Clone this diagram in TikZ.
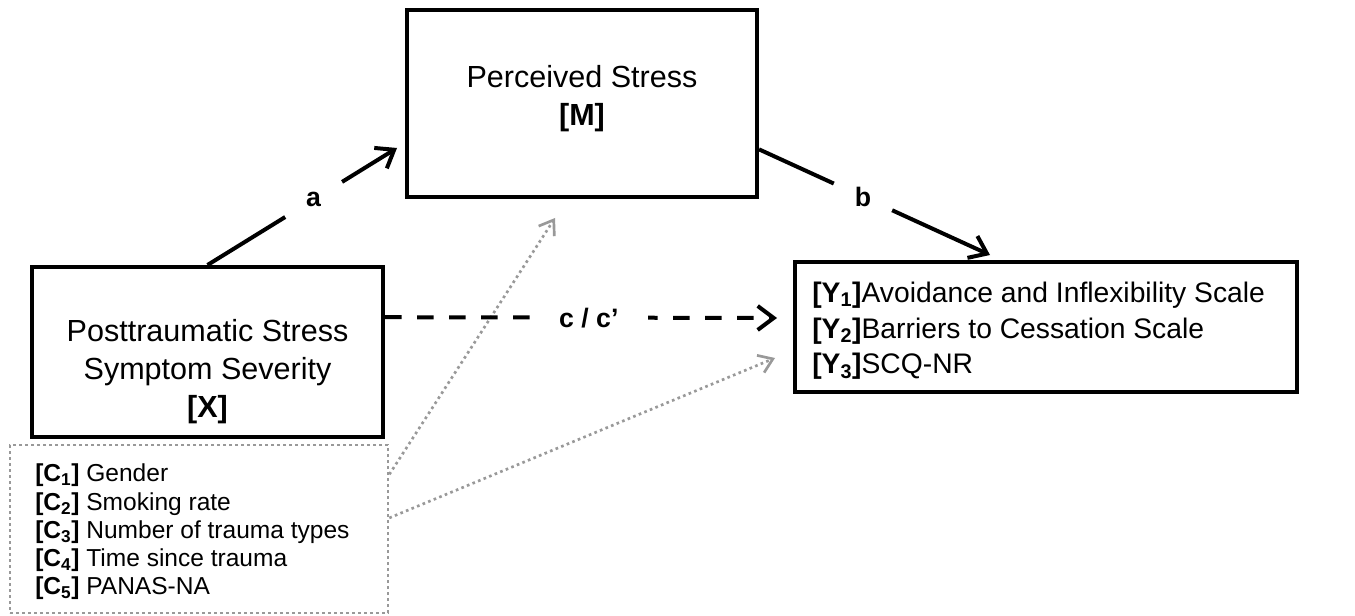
\documentclass[tikz,border=0pt]{standalone}
\usepackage{fontspec}
\setmainfont{Liberation Sans}
\usetikzlibrary{arrows.meta,calc}
\definecolor{dotgray}{HTML}{999999}
\begin{document}
\begin{tikzpicture}[x=0.75pt,y=-0.75pt,
  box/.style={draw=black, line width=3pt, inner sep=0pt},
  bigtext/.style={inner sep=0pt, align=center, font=\fontsize{22.9}{28.5}\selectfont},
  ytext/.style={inner sep=0pt, align=left, font=\fontsize{21.2}{26.6}\selectfont},
  ctext/.style={inner sep=0pt, align=left, font=\fontsize{18.4}{21.2}\selectfont},
  link/.style={line width=3pt, -{Straight Barb[length=12pt,width=18pt]}},
  dashlink/.style={link, dash pattern=on 12.5pt off 11.5pt},
  dotted gray/.style={draw=dotgray, line width=2pt, dash pattern=on 2pt off 2.5pt},
  graylink/.style={dotted gray,
    -{Straight Barb[length=10pt,width=14pt,line width=2pt]}},
  lbl/.style={fill=white, inner sep=0pt, font=\bfseries\fontsize{20}{24}\selectfont},
  round lbl/.style={lbl, circle, minimum size=#1}
]
\useasboundingbox (0,0) rectangle (1355,616);

% boxes
\node[box, minimum width=262.5pt, minimum height=140.25pt] (M) at (582,103.5) {};
\node[box, minimum width=263.25pt, minimum height=127.5pt] (X) at (207.5,352) {};
\node[box, minimum width=376.5pt, minimum height=97.5pt] (Y) at (1046,327) {};
\node[dotted gray, minimum width=283.5pt, minimum height=126pt, inner sep=0pt] (C) at (199,529) {};

% box texts
\node[bigtext] (Mt) at (582,99) {Perceived Stress\\\textbf{[M]}};
\node[bigtext] (Xt) at (207.5,372) {Posttraumatic Stress\\Symptom Severity\\\textbf{[X]}};
\node[ytext, anchor=west] (Yt) at (812,331)
  {\textbf{[Y\textsubscript{1}]}Avoidance and Inflexibility Scale\\
   \textbf{[Y\textsubscript{2}]}Barriers to Cessation Scale\\
   \textbf{[Y\textsubscript{3}]}SCQ-NR};
\node[ctext, anchor=west] (Ct) at (35,532)
  {\textbf{[C\textsubscript{1}]} Gender\\
   \textbf{[C\textsubscript{2}]} Smoking rate\\
   \textbf{[C\textsubscript{3}]} Number of trauma types\\
   \textbf{[C\textsubscript{4}]} Time since trauma\\
   \textbf{[C\textsubscript{5}]} PANAS-NA};

% connector end points
\coordinate (aT) at (397,148);
\coordinate (bS) at ($(M.south east)!0.26!(M.north east)$);
\coordinate (bT) at (990,255);
\coordinate (cS) at ($(X.north east)!0.3!(X.south east)$);
\coordinate (cT) at (777,318);
\coordinate (g1S) at ($(C.north east)!0.18!(C.south east)$);
\coordinate (g1T) at (555,218);
\coordinate (g2S) at ($(C.north east)!0.435!(C.south east)$);
\coordinate (g2T) at (775,358);

% covariate paths
\draw[graylink] (g1S) -- (g1T);
\draw[graylink] (g2S) -- (g2T);

% mediation paths
\draw[link] (X.north) -- node[pos=0.56, round lbl=50pt] (la) {a} (aT);
\draw[link] (bS) -- node[pos=0.45, round lbl=48pt] (lb) {b} (bT);
\draw[dashlink] (cS) -- node[pos=0.52, lbl, minimum width=88pt, minimum height=22pt] (lc) {c / c’} (cT);
\end{tikzpicture}
\end{document}
